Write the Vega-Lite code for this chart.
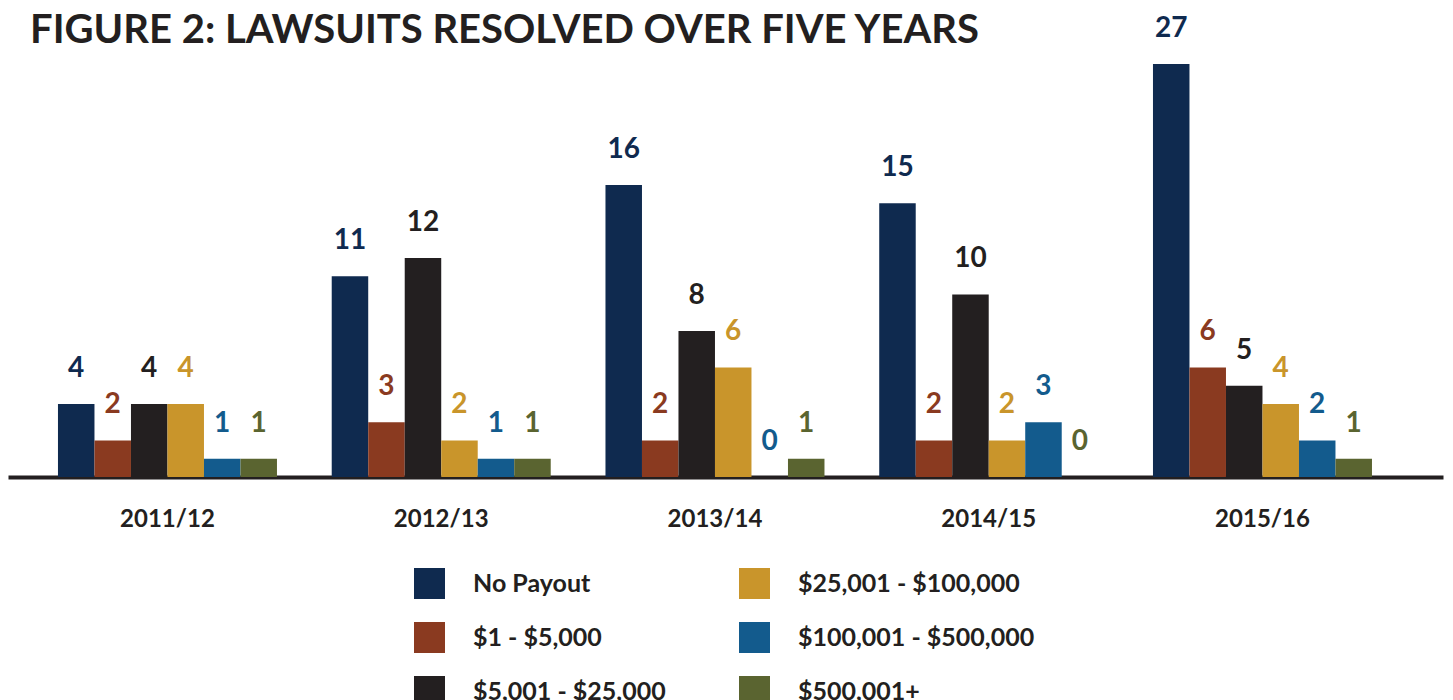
{
  "$schema": "https://vega.github.io/schema/vega-lite/v6.json",
  "autosize": {"type": "none"},
  "width": 1435,
  "height": 413,
  "padding": {"left": 8, "top": 64, "right": 10, "bottom": 223},
  "background": "white",
  "config": {"view": {"stroke": null}, "font": "Lato"},
  "title": {
    "text": "FIGURE 2: LAWSUITS RESOLVED OVER FIVE YEARS",
    "anchor": "start",
    "font": "Lato",
    "fontSize": 40,
    "fontWeight": "bold",
    "color": "#231f20",
    "dx": 22,
    "offset": 0,
    "dy": 36
  },
  "data": {
    "values": [
      {"year": "2011/12", "category": "No Payout", "value": 4},
      {"year": "2011/12", "category": "$1 - $5,000", "value": 2},
      {"year": "2011/12", "category": "$5,001 - $25,000", "value": 4},
      {"year": "2011/12", "category": "$25,001 - $100,000", "value": 4},
      {"year": "2011/12", "category": "$100,001 - $500,000", "value": 1},
      {"year": "2011/12", "category": "$500,001+", "value": 1},
      {"year": "2012/13", "category": "No Payout", "value": 11},
      {"year": "2012/13", "category": "$1 - $5,000", "value": 3},
      {"year": "2012/13", "category": "$5,001 - $25,000", "value": 12},
      {"year": "2012/13", "category": "$25,001 - $100,000", "value": 2},
      {"year": "2012/13", "category": "$100,001 - $500,000", "value": 1},
      {"year": "2012/13", "category": "$500,001+", "value": 1},
      {"year": "2013/14", "category": "No Payout", "value": 16},
      {"year": "2013/14", "category": "$1 - $5,000", "value": 2},
      {"year": "2013/14", "category": "$5,001 - $25,000", "value": 8},
      {"year": "2013/14", "category": "$25,001 - $100,000", "value": 6},
      {"year": "2013/14", "category": "$100,001 - $500,000", "value": 0},
      {"year": "2013/14", "category": "$500,001+", "value": 1},
      {"year": "2014/15", "category": "No Payout", "value": 15},
      {"year": "2014/15", "category": "$1 - $5,000", "value": 2},
      {"year": "2014/15", "category": "$5,001 - $25,000", "value": 10},
      {"year": "2014/15", "category": "$25,001 - $100,000", "value": 2},
      {"year": "2014/15", "category": "$100,001 - $500,000", "value": 3},
      {"year": "2014/15", "category": "$500,001+", "value": 0},
      {"year": "2015/16", "category": "No Payout", "value": 27},
      {"year": "2015/16", "category": "$1 - $5,000", "value": 6},
      {"year": "2015/16", "category": "$5,001 - $25,000", "value": 5},
      {"year": "2015/16", "category": "$25,001 - $100,000", "value": 4},
      {"year": "2015/16", "category": "$100,001 - $500,000", "value": 2},
      {"year": "2015/16", "category": "$500,001+", "value": 1}
    ]
  },
  "encoding": {
    "x": {
      "field": "year",
      "type": "nominal",
      "scale": {"paddingInner": 0.2, "paddingOuter": 0.221, "align": 0.413},
      "axis": {
        "title": null,
        "labelAngle": 0,
        "ticks": false,
        "domainColor": "#231f20",
        "domainWidth": 4,
        "labelFont": "Lato",
        "labelFontSize": 24,
        "labelFontWeight": "bold",
        "labelColor": "#231f20",
        "labelPadding": 30
      }
    },
    "xOffset": {
      "field": "category",
      "type": "nominal",
      "sort": ["No Payout", "$1 - $5,000", "$5,001 - $25,000", "$25,001 - $100,000", "$100,001 - $500,000", "$500,001+"],
      "scale": {"paddingInner": 0, "paddingOuter": 0}
    },
    "y": {
      "field": "value",
      "type": "quantitative",
      "scale": {"domain": [0, 22.63], "clamp": true, "nice": false, "zero": true},
      "axis": null
    },
    "color": {
      "field": "category",
      "type": "nominal",
      "scale": {
        "domain": ["No Payout", "$1 - $5,000", "$5,001 - $25,000", "$25,001 - $100,000", "$100,001 - $500,000", "$500,001+"],
        "range": ["#0f2a4f", "#8a3a20", "#231f20", "#c9952b", "#135b8d", "#5a6430"]
      }
    }
  },
  "layer": [
    {
      "mark": {"type": "bar", "opacity": 1},
      "encoding": {
        "color": {
          "field": "category",
          "type": "nominal",
          "legend": {
            "title": null,
            "orient": "none",
            "legendX": 406,
            "legendY": 504,
            "columns": 2,
            "columnPadding": 73,
            "rowPadding": 23,
            "padding": 0,
            "symbolType": "square",
            "symbolSize": 961,
            "symbolStrokeWidth": 0,
            "symbolOpacity": 1,
            "labelOffset": 28,
            "labelFont": "Lato",
            "labelFontSize": 25,
            "labelFontWeight": "bold",
            "labelColor": "#231f20",
            "labelLimit": 400
          }
        }
      }
    },
    {
      "mark": {"type": "text", "dy": -35, "baseline": "middle", "font": "Lato", "fontSize": 28, "fontWeight": "bold"},
      "encoding": {
        "text": {"field": "value", "type": "quantitative"},
        "color": {"field": "category", "type": "nominal", "legend": null}
      }
    }
  ]
}
